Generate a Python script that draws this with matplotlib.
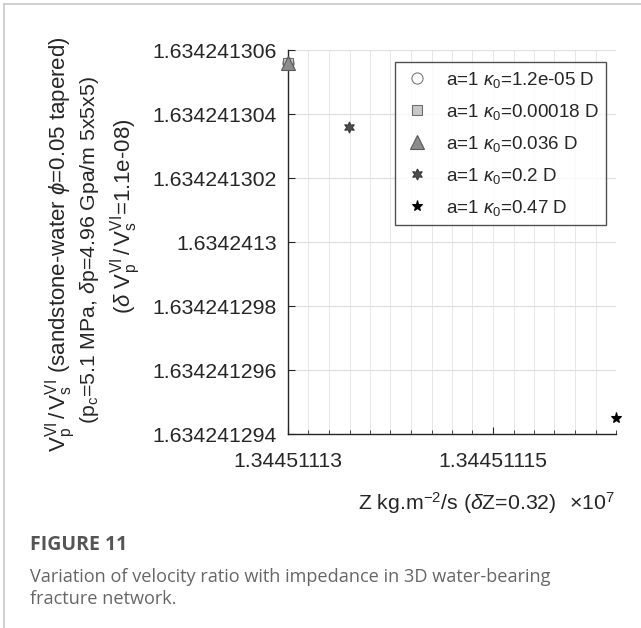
import numpy as np
import matplotlib
matplotlib.use("Agg")
import matplotlib.pyplot as plt
from matplotlib.lines import Line2D

plt.rcParams['font.family'] = ['Liberation Sans', 'DejaVu Sans']
plt.rcParams['mathtext.fontset'] = 'custom'
plt.rcParams['mathtext.rm'] = 'Liberation Sans'
plt.rcParams['mathtext.it'] = 'Liberation Sans:italic'
plt.rcParams['mathtext.bf'] = 'Liberation Sans:bold'

# data: impedance Z (kg.m^-2/s) and velocity ratio Vp/Vs
labels = ["a=1 $\\kappa_0$=1.2e-05 D", "a=1 $\\kappa_0$=0.00018 D",
          "a=1 $\\kappa_0$=0.036 D", "a=1 $\\kappa_0$=0.2 D",
          "a=1 $\\kappa_0$=0.47 D"]
z = [13445111.30, 13445111.30, 13445111.30, 13445111.36, 13445111.62]
ratio = [1.6342413056, 1.6342413056, 1.6342413056, 1.6342413036, 1.6342412945]
markers = ["o", "s", "^", (6, 1, 0), "*"]
faces = ["white", "#c8c8c8", "#8c8c8c", "#4d4d4d", "black"]
edges = ["#7a7a7a", "#6e6e6e", "#5a5a5a", "#3a3a3a", "black"]
sizes = [8, 7, 9.5, 8, 8]

xticks = [1.34451113, 1.34451115]
yticks = [1.634241294, 1.634241296, 1.634241298, 1.634241300,
          1.634241302, 1.634241304, 1.634241306]

fig = plt.figure(figsize=(6.41, 6.28), dpi=100)
ax = fig.add_axes([288/641, 1-434/628, 328/641, 384/628])

for i in range(len(z)):
    ax.plot(z[i]/1e7, ratio[i], linestyle="none", marker=markers[i],
            markersize=sizes[i], markerfacecolor=faces[i],
            markeredgecolor=edges[i], markeredgewidth=0.8,
            label=labels[i], clip_on=False, zorder=5)

ax.set_xlim(1.34451113, 1.344511162)
ax.set_ylim(1.634241294, 1.634241306)
ax.set_xticks(xticks)
ax.set_xticklabels(["%.9g" % v for v in xticks])
ax.set_xticks(np.linspace(1.34451113, 1.344511162, 17), minor=True)
ax.set_yticks(yticks)
ax.set_yticklabels(["%.10g" % v for v in yticks])

ax.grid(True, which="major", axis="y", color="#e0e0e0", linewidth=0.9)
ax.grid(True, which="both", axis="x", color="#e8e8e8", linewidth=0.7)
ax.set_axisbelow(True)

for s in ["top", "right"]:
    ax.spines[s].set_visible(False)
for s in ["left", "bottom"]:
    ax.spines[s].set_color("#262626")
    ax.spines[s].set_linewidth(1.0)
ax.tick_params(which="both", direction="in", colors="#262626", labelsize=15.3)
ax.tick_params(which="major", length=5)
ax.tick_params(which="minor", length=3)
ax.tick_params(axis="x", pad=13)
ax.tick_params(axis="y", pad=8)

ax.set_xlabel("Z kg.m$^{-2}$/s ($\\delta$Z=0.32)", fontsize=15.3, color="#262626")
ax.xaxis.set_label_coords(0.5 + 5/328, -(503-434)/384)
ax.xaxis.label.set_va("center")
fig.text(615/641, 1-503/628, "$\\times$10$^7$", fontsize=15.3, color="#262626",
         ha="right", va="center")

fig.text(61/641, 1-244/628,
         "$\\mathrm{V_p^{VI}}\\,/\\,\\mathrm{V_s^{VI}}$ (sandstone-water $\\phi$=0.05 tapered)",
         rotation=90, fontsize=16, ha="center", va="center", color="#262626")
fig.text(90/641, 1-250/628,
         "(p$_\\mathrm{c}$=5.1 MPa, $\\delta$p=4.96 Gpa/m 5x5x5)",
         rotation=90, fontsize=15.3, ha="center", va="center", color="#262626")
fig.text(126/641, 1-216/628,
         "($\\delta$ $\\mathrm{V_p^{VI}}\\,/\\,\\mathrm{V_s^{VI}}$=1.1e-08)",
         rotation=90, fontsize=16, ha="center", va="center", color="#262626")

leg = ax.legend(loc="upper right", bbox_to_anchor=(606/641, 1-62/628),
                bbox_transform=fig.transFigure, fontsize=13.5, frameon=True,
                fancybox=False, edgecolor="#262626", labelspacing=0.64,
                handletextpad=0.8, borderpad=0.4, borderaxespad=0,
                handlelength=1.5)
leg.get_frame().set_linewidth(1.0)
for t in leg.get_texts():
    t.set_color("#262626")

# page frame and caption
fig.add_artist(Line2D([4/641, 4/641], [0, 1-4/628], color="#c8c8c8", lw=1.2))
fig.add_artist(Line2D([4/641, 1], [1-4/628, 1-4/628], color="#c8c8c8", lw=1.2))
fig.text(30/641, 1-545/628, "FIGURE 11", fontsize=14, fontweight="bold",
         color="#555555", family="Open Sans", va="center")
fig.text(30/641, 1-577/628,
         "Variation of velocity ratio with impedance in 3D water-bearing",
         fontsize=13.1, color="#666666", family="Open Sans", va="center")
fig.text(30/641, 1-599/628, "fracture network.",
         fontsize=13.1, color="#666666", family="Open Sans", va="center")

fig.savefig("out.png", dpi=100)
